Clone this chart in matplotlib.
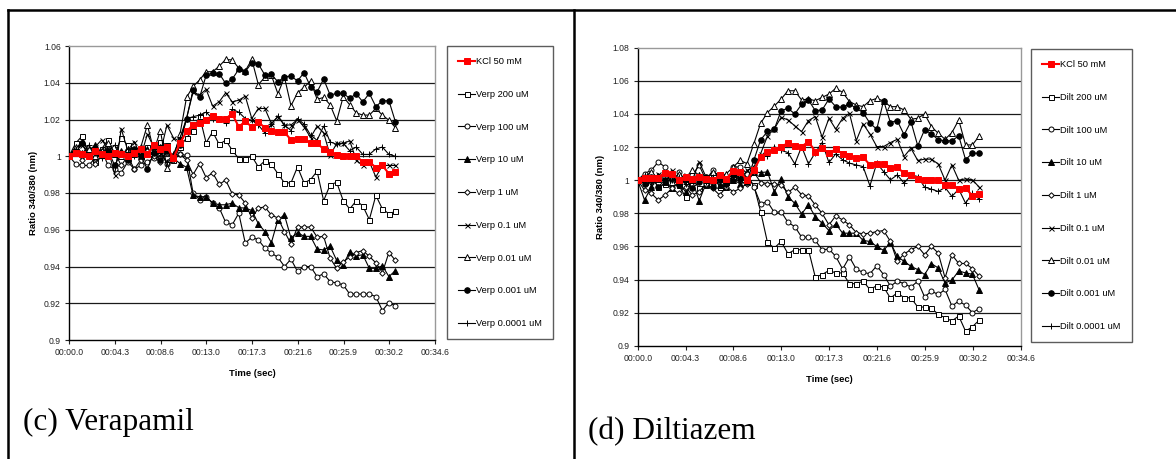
import numpy as np
import matplotlib.pyplot as plt
from matplotlib.lines import Line2D
from matplotlib.ticker import FuncFormatter

plt.rcParams['font.family'] = ['Liberation Sans', 'DejaVu Sans']

W, H = 1176, 459

# readings every ~0.62 s, 51 samples
sample_interval = 0.6165
time_s = np.arange(51) * sample_interval

doses = ['200 uM', '100 uM', '10 uM', '1 uM', '0.1 uM', '0.01 uM', '0.001 uM', '0.0001 uM']

# ---- (c) Verapamil ----
kcl_verp = [1.000, 1.002, 1.001, 1.000, 1.003, 1.001, 1.000, 1.002, 1.001, 1.000, 1.002, 1.004, 1.001, 1.006, 1.004, 1.005, 0.999, 1.007,
            1.0136, 1.017, 1.018, 1.020, 1.022, 1.0205, 1.0205, 1.023, 1.016, 1.019, 1.016, 1.0185, 1.0156, 1.014, 1.013, 1.013,
            1.009, 1.0095, 1.0096, 1.007, 1.007, 1.004, 1.0024, 1.0005, 1.000, 1.000, 1.000, 0.997, 0.997, 0.9938, 0.995, 0.9905, 0.9915]
verp_200 = [1.000, 1.007, 1.011, 1.002, 0.997, 1.004, 1.009, 1.001, 1.010, 1.006, 1.003, 1.000, 1.005, 1.003, 1.008, 1.006, 0.998, 1.005,
            1.010, 1.014, 1.0218, 1.0073, 1.0133, 1.0065, 1.0087, 1.0033, 0.9987, 0.9987, 1.000, 0.9942, 0.9975, 0.9956, 0.9905, 0.9855,
            0.9855, 0.9942, 0.9855, 0.9873, 0.9918, 0.9758, 0.9845, 0.9858, 0.9758, 0.9713, 0.9758, 0.973, 0.9655, 0.9787, 0.9713, 0.9687, 0.970]
verp_100 = [1.000, 0.996, 0.995, 0.995, 0.999, 1.003, 0.995, 0.993, 0.991, 0.997, 0.993, 0.995, 0.997, 0.999, 1.002, 0.996, 1.000, 1.001,
            1.0005, 0.980, 0.9764, 0.978, 0.9745, 0.972, 0.964, 0.9627, 0.969, 0.9527, 0.956, 0.9545, 0.950, 0.9473, 0.945, 0.940,
            0.944, 0.9373, 0.940, 0.940, 0.9345, 0.936, 0.9318, 0.931, 0.930, 0.925, 0.925, 0.925, 0.925, 0.9236, 0.916, 0.9204, 0.9185]
verp_10 = [1.000, 1.004, 1.008, 1.003, 1.006, 1.002, 1.004, 1.001, 1.003, 0.999, 1.002, 1.000, 1.004, 1.001, 1.005, 1.003, 0.999, 0.996,
           0.994, 0.9787, 0.978, 0.978, 0.9745, 0.9736, 0.9736, 0.9745, 0.972, 0.9718, 0.9705, 0.9633, 0.959, 0.953, 0.9655, 0.968,
           0.9555, 0.9585, 0.9564, 0.9564, 0.9495, 0.949, 0.951, 0.9433, 0.941, 0.948, 0.9458, 0.9464, 0.939, 0.939, 0.9404, 0.9345, 0.9378]
verp_1 = [1.000, 1.003, 0.998, 1.001, 0.996, 1.000, 1.004, 1.002, 0.995, 1.000, 0.993, 0.998, 1.003, 1.000, 0.997, 1.002, 0.998, 1.001,
          0.998, 0.990, 0.996, 0.9884, 0.991, 0.9847, 0.987, 0.9796, 0.979, 0.9745, 0.9664, 0.9718, 0.9724, 0.968, 0.9664, 0.959,
          0.9524, 0.9615, 0.9615, 0.9615, 0.956, 0.9564, 0.9445, 0.939, 0.9427, 0.945, 0.9476, 0.9487, 0.9455, 0.942, 0.9367, 0.9476, 0.9433]
verp_01 = [1.000, 1.003, 1.006, 1.002, 1.005, 1.009, 1.004, 0.990, 1.015, 1.003, 1.008, 1.000, 1.012, 1.005, 1.002, 1.017, 1.010, 1.008,
           1.0205, 1.035, 1.0333, 1.0364, 1.0273, 1.0296, 1.0345, 1.0296, 1.0305, 1.0327, 1.0205, 1.026, 1.026, 1.0178, 1.0215, 1.017,
           1.017, 1.020, 1.016, 1.0102, 1.0164, 1.0127, 1.0005, 1.007, 1.007, 1.0084, 0.9978, 0.995, 0.997, 0.9887, 0.995, 0.995, 0.995]
verp_001 = [1.000, 1.005, 1.002, 1.004, 1.000, 1.003, 1.007, 1.002, 1.000, 1.004, 1.001, 1.005, 1.017, 1.003, 1.014, 0.9935, 0.999, 1.012,
            1.032, 1.038, 1.0415, 1.046, 1.046, 1.049, 1.0527, 1.0524, 1.048, 1.0465, 1.0527, 1.039, 1.043, 1.044, 1.034, 1.043,
            1.0275, 1.0345, 1.0375, 1.041, 1.031, 1.032, 1.028, 1.0193, 1.0324, 1.028, 1.0236, 1.0224, 1.0224, 1.026, 1.0224, 1.0196, 1.0156]
verp_0001 = [1.000, 1.002, 1.007, 1.000, 1.004, 1.001, 1.003, 0.995, 1.002, 0.998, 1.004, 1.000, 0.993, 1.002, 0.998, 1.003, 1.000, 1.006,
             1.0205, 1.036, 1.032, 1.044, 1.0455, 1.045, 1.0396, 1.042, 1.0473, 1.046, 1.0509, 1.0502, 1.0442, 1.0445, 1.0405, 1.0433,
             1.0436, 1.041, 1.0455, 1.0378, 1.035, 1.042, 1.0333, 1.0342, 1.0342, 1.0315, 1.034, 1.0296, 1.0342, 1.027, 1.0302, 1.0302, 1.0187]
verp_00001 = [1.000, 1.004, 1.001, 1.006, 1.002, 0.999, 1.003, 1.006, 1.001, 1.004, 1.000, 1.003, 1.001, 1.005, 1.002, 0.997, 1.001, 1.010,
              1.0205, 1.0215, 1.0224, 1.024, 1.0205, 1.0205, 1.018, 1.0255, 1.024, 1.0205, 1.0196, 1.017, 1.0127, 1.0175, 1.0218, 1.017,
              1.014, 1.0205, 1.0175, 1.0115, 1.0087, 1.0164, 1.0078, 1.0065, 1.007, 1.003, 1.005, 1.001, 1.001, 1.004, 1.005, 1.001, 1.000]

# ---- (d) Diltiazem ----
kcl_dilt = [1.000, 1.0016, 1.0012, 1.0016, 1.0046, 1.004, 1.000, 1.002, 1.001, 1.002, 1.001, 1.000, 1.003, 1.001, 1.0056, 1.005, 1.000, 1.006,
            1.0139, 1.0169, 1.018, 1.0203, 1.0223, 1.0207, 1.0203, 1.0233, 1.0173, 1.0193, 1.0163, 1.0187, 1.0159, 1.0147, 1.0133, 1.0139,
            1.0092, 1.0096, 1.0098, 1.0076, 1.0078, 1.0042, 1.003, 1.0008, 1.0002, 1.0002, 1.000, 0.9972, 0.9972, 0.9946, 0.9952, 0.9906, 0.9918]
dilt_200 = [1.000, 0.999, 1.002, 0.996, 0.998, 1.001, 0.997, 0.990, 1.001, 0.995, 0.997, 1.003, 0.996, 0.999, 1.002, 1.004, 1.002, 0.997,
            0.981, 0.9624, 0.959, 0.963, 0.9556, 0.958, 0.958, 0.958, 0.9415, 0.943, 0.9455, 0.944, 0.944, 0.9375, 0.9375, 0.939,
            0.934, 0.9363, 0.9355, 0.9288, 0.932, 0.929, 0.929, 0.9234, 0.9234, 0.9228, 0.919, 0.917, 0.915, 0.918, 0.9088, 0.9115, 0.9155]
dilt_100 = [1.000, 1.004, 1.006, 1.011, 1.008, 0.996, 1.005, 0.999, 1.003, 1.009, 1.000, 1.006, 1.002, 0.999, 1.008, 1.008, 1.004, 0.996,
            0.9857, 0.987, 0.9805, 0.981, 0.9745, 0.972, 0.9656, 0.9656, 0.9636, 0.958, 0.9584, 0.954, 0.9463, 0.9536, 0.9463, 0.9443,
            0.9435, 0.9483, 0.943, 0.936, 0.939, 0.9375, 0.9355, 0.939, 0.9295, 0.933, 0.931, 0.934, 0.924, 0.927, 0.9245, 0.920, 0.9225]
dilt_10 = [1.000, 0.988, 0.996, 1.002, 0.999, 0.995, 0.999, 0.993, 1.000, 0.9875, 0.998, 1.001, 0.997, 0.996, 1.000, 0.998, 0.999, 1.005,
           1.0046, 1.005, 0.993, 1.0006, 0.990, 0.986, 0.9797, 0.985, 0.978, 0.974, 0.9696, 0.9736, 0.968, 0.968, 0.968, 0.9636,
           0.963, 0.960, 0.9576, 0.9624, 0.954, 0.951, 0.948, 0.946, 0.943, 0.9496, 0.947, 0.9379, 0.9397, 0.9452, 0.944, 0.9432, 0.9336]
dilt_1 = [1.000, 0.994, 0.992, 0.988, 0.991, 0.995, 0.992, 0.996, 0.991, 0.993, 0.998, 0.995, 0.991, 0.996, 0.993, 0.995, 0.998, 1.005,
          0.9986, 0.998, 0.998, 0.997, 0.9926, 0.9958, 0.9912, 0.9906, 0.985, 0.980, 0.973, 0.9785, 0.976, 0.973, 0.9684, 0.9676,
          0.968, 0.969, 0.9696, 0.963, 0.951, 0.9555, 0.958, 0.960, 0.955, 0.960, 0.956, 0.941, 0.955, 0.9497, 0.9497, 0.9466, 0.942]
dilt_01 = [1.000, 1.002, 0.997, 1.004, 1.001, 1.006, 0.998, 1.003, 1.000, 1.011, 1.002, 0.999, 1.004, 1.001, 1.003, 1.000, 1.006, 1.008,
           1.016, 1.0267, 1.031, 1.038, 1.0364, 1.0328, 1.0293, 1.036, 1.0384, 1.026, 1.0374, 1.0308, 1.0374, 1.0404, 1.0239, 1.034,
           1.0279, 1.0203, 1.0203, 1.0227, 1.0247, 1.0143, 1.0193, 1.0119, 1.0127, 1.0127, 1.0098, 1.000, 1.0092, 1.000, 1.0008, 1.0002, 0.9958]
dilt_001 = [1.000, 1.002, 1.005, 1.001, 1.003, 0.999, 1.004, 1.001, 1.006, 1.003, 1.000, 1.005, 1.002, 1.004, 1.008, 1.012, 1.010, 1.022,
            1.0344, 1.0408, 1.0448, 1.049, 1.054, 1.054, 1.0484, 1.049, 1.048, 1.050, 1.052, 1.0555, 1.053, 1.0475, 1.0454, 1.0444,
            1.048, 1.0494, 1.0478, 1.0444, 1.0444, 1.0424, 1.0368, 1.0374, 1.040, 1.0324, 1.0283, 1.0247, 1.0287, 1.0364, 1.0213, 1.0213, 1.0267]
dilt_0001 = [1.000, 0.998, 1.002, 0.996, 1.000, 1.003, 0.997, 1.001, 0.995, 0.999, 1.002, 0.996, 1.000, 0.998, 1.003, 1.001, 0.999, 1.012,
             1.0244, 1.0294, 1.0308, 1.042, 1.0434, 1.040, 1.0458, 1.0484, 1.042, 1.0424, 1.049, 1.0444, 1.044, 1.046, 1.0434, 1.0408,
             1.0344, 1.0308, 1.048, 1.0348, 1.036, 1.0274, 1.0354, 1.0208, 1.0304, 1.028, 1.0244, 1.0238, 1.0238, 1.0268, 1.0124, 1.0163, 1.0163]
dilt_00001 = [1.000, 1.003, 0.999, 1.001, 1.004, 1.000, 1.002, 0.998, 1.001, 1.003, 0.999, 1.002, 1.000, 0.997, 1.001, 1.003, 1.000, 1.006,
              1.0143, 1.0147, 1.0203, 1.018, 1.0167, 1.0098, 1.0203, 1.0098, 1.0167, 1.0227, 1.0107, 1.0159, 1.0123, 1.0103, 1.0092, 1.0082,
              0.9966, 1.0103, 1.0052, 1.0002, 1.0032, 0.9982, 1.0032, 1.0022, 0.9958, 0.9946, 0.9932, 0.9956, 0.9902, 0.9946, 0.9861, 0.9922, 0.9885]

verp_series = [kcl_verp, verp_200, verp_100, verp_10, verp_1, verp_01, verp_001, verp_0001, verp_00001]
dilt_series = [kcl_dilt, dilt_200, dilt_100, dilt_10, dilt_1, dilt_01, dilt_001, dilt_0001, dilt_00001]

styles = [
    dict(marker='s', color='#ff0000', mfc='#ff0000', mec='#ff0000', ms=3.8, lw=1.5, zorder=5),
    dict(marker='s', mfc='white', ms=3.6),
    dict(marker='o', mfc='white', ms=3.6),
    dict(marker='^', mfc='black', ms=4.0),
    dict(marker='D', mfc='white', ms=2.8),
    dict(marker='x', ms=3.6),
    dict(marker='^', mfc='white', ms=4.0),
    dict(marker='o', mfc='black', ms=4.0),
    dict(marker='+', ms=4.6),
]


def fmt_time(t, pos):
    return f"{int(t // 60):02d}:{t % 60:04.1f}"


def draw_panel(rect, series, prefix, ymax, legend_xy):
    ax = fig.add_axes(rect)
    labels = ['KCl 50 mM'] + [f'{prefix} {d}' for d in doses]
    for vals, lab, st in zip(series, labels, styles):
        kw = dict(color='black', lw=0.8, mew=0.7, mec='black', zorder=3)
        kw.update(st)
        ax.plot(time_s, vals, label=lab, **kw)

    yt = np.round(np.arange(0.9, ymax + 0.001, 0.02), 2)
    ax.set_ylim(0.9, ymax)
    ax.set_yticks(yt)
    ax.set_yticklabels([f'{v:g}' for v in yt])
    for v in yt[1:-1]:
        ax.axhline(v, color='#1a1a1a', lw=0.9, zorder=1)
    ax.set_xlim(0, 34.56)
    ax.set_xticks(np.arange(9) * 4.32)
    ax.xaxis.set_major_formatter(FuncFormatter(fmt_time))
    ax.tick_params(labelsize=6.2, length=3, width=0.8, pad=3, colors='#222222')
    for s in ['top', 'right']:
        ax.spines[s].set_color('#999999')
        ax.spines[s].set_linewidth(1.0)
    for s in ['left', 'bottom']:
        ax.spines[s].set_linewidth(1.0)
    ax.set_ylabel('Ratio 340/380 (nm)', fontsize=6.8, fontweight='bold')
    ax.set_xlabel('Time (sec)', fontsize=6.8, fontweight='bold')
    ax.yaxis.set_label_coords(-0.085, 0.5)
    ax.xaxis.set_label_coords(0.5, -0.098)

    leg = ax.legend(loc='upper left', bbox_to_anchor=legend_xy, bbox_transform=fig.transFigure,
                    fontsize=6.7, labelspacing=2.55, borderpad=1.2,
                    handlelength=1.8, handletextpad=0.15, frameon=True, fancybox=False,
                    edgecolor='#333333', borderaxespad=0)
    leg.get_frame().set_linewidth(1.0)
    return ax


fig = plt.figure(figsize=(W / 100, H / 100), dpi=100)

draw_panel([69 / W, 1 - 340 / H, 366 / W, 294 / H], verp_series, 'Verp', 1.06, (447 / W, 1 - 46 / H))
draw_panel([637.7 / W, 1 - 345.8 / H, 382.9 / W, 298.1 / H], dilt_series, 'Dilt', 1.08, (1031 / W, 1 - 49 / H))

# page frame
fig.add_artist(Line2D([8 / W, 1], [1 - 10 / H, 1 - 10 / H], color='black', lw=1.8))
fig.add_artist(Line2D([8 / W, 8 / W], [0, 1 - 10 / H], color='black', lw=1.8))
fig.add_artist(Line2D([574 / W, 574 / W], [0, 1 - 10 / H], color='black', lw=1.8))

fig.text(22.7 / W, 1 - 430 / H, '(c) Verapamil', fontfamily='Liberation Serif', fontsize=22.5, va='baseline')
fig.text(588 / W, 1 - 439 / H, '(d) Diltiazem', fontfamily='Liberation Serif', fontsize=22.5, va='baseline')

fig.savefig('out.png', dpi=100)
